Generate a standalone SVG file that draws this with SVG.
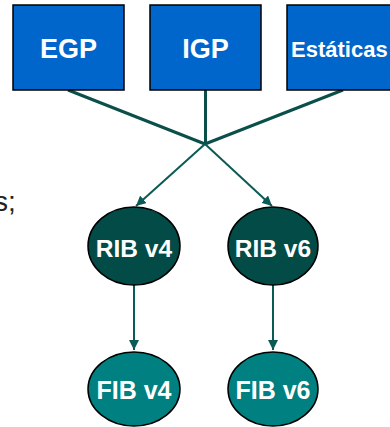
<svg xmlns="http://www.w3.org/2000/svg" width="390" height="427" viewBox="0 0 390 427">
<style>
.box{fill:#0066CC;stroke:#000;stroke-width:1.5}
.rib{fill:#034B46;stroke:#000;stroke-width:1.5}
.fib{fill:#008080;stroke:#000;stroke-width:1.5}
.lbl{font-family:"Liberation Sans",Arial,sans-serif;font-weight:bold;fill:#fff;text-anchor:middle}
.thick{stroke:#0B4F4A;stroke-width:3;fill:none}
.thin{stroke:#0B5A55;stroke-width:2;fill:none}
</style>
<defs>
<marker id="ah" viewBox="0 0 10 10" refX="10" refY="5" markerWidth="5" markerHeight="5" orient="auto" markerUnits="strokeWidth">
<path d="M0,0 L10,5 L0,10 z" fill="#0B5A55"/>
</marker>
</defs>
<text x="-6" y="211" font-family="Liberation Sans,Arial,sans-serif" font-size="28" fill="#222">s;</text>
<g id="connectors">
<line class="thick" x1="68" y1="90" x2="205" y2="144"/>
<line class="thick" x1="205.5" y1="90" x2="205.5" y2="144"/>
<line class="thick" x1="343" y1="90" x2="205" y2="144"/>
<line class="thin" x1="205" y1="144" x2="136" y2="206" marker-end="url(#ah)"/>
<line class="thin" x1="205" y1="144" x2="272" y2="206" marker-end="url(#ah)"/>
<line class="thin" x1="134" y1="285" x2="134" y2="350" marker-end="url(#ah)"/>
<line class="thin" x1="273" y1="285" x2="273" y2="350" marker-end="url(#ah)"/>
</g>
<g id="egp">
<rect class="box" x="13" y="5" width="111" height="85"/>
<text class="lbl" x="68.5" y="58" font-size="27">EGP</text>
</g>
<g id="igp">
<rect class="box" x="150" y="5" width="111" height="85"/>
<text class="lbl" x="205.5" y="58" font-size="27">IGP</text>
</g>
<g id="estaticas">
<rect class="box" x="287" y="5" width="111" height="85"/>
<text class="lbl" x="291" y="57" font-size="22" style="text-anchor:start">Estáticas</text>
</g>
<g id="ribv4">
<ellipse class="rib" cx="134" cy="246" rx="46" ry="39"/>
<text class="lbl" x="134" y="257" font-size="24.5">RIB v4</text>
</g>
<g id="ribv6">
<ellipse class="rib" cx="273" cy="246" rx="45" ry="39"/>
<text class="lbl" x="273" y="257" font-size="24.5">RIB v6</text>
</g>
<g id="fibv4">
<ellipse class="fib" cx="134" cy="389" rx="46" ry="37"/>
<text class="lbl" x="134" y="399" font-size="25">FIB v4</text>
</g>
<g id="fibv6">
<ellipse class="fib" cx="273" cy="389" rx="45" ry="37"/>
<text class="lbl" x="273" y="399" font-size="25">FIB v6</text>
</g>
</svg>
